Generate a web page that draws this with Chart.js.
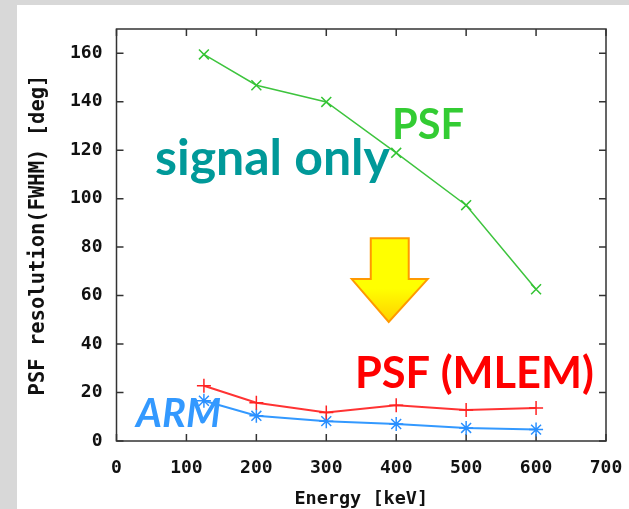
<!DOCTYPE html>
<html>
<head>
<meta charset="utf-8">
<script src="https://cdn.jsdelivr.net/npm/chart.js@4/dist/chart.umd.min.js"></script>
<style>
  html, body { margin: 0; padding: 0; background: #d8d8d8; }
  #wrap { position: relative; width: 629px; height: 509px; }
  canvas { display: block; }
</style>
</head>
<body>
<div id="wrap"><canvas id="c" width="629" height="509"></canvas></div>
<script>
// ---- data ----
const energies      = [125, 200, 300, 400, 500, 600];
const psfSignalOnly = [159.5, 146.8, 139.9, 118.9, 97.3, 62.6];
const psfMLEM       = [22.8, 15.8, 11.8, 14.8, 12.8, 13.6];
const armValues     = [16.6, 10.4, 8.2, 7.0, 5.4, 4.7];
const xTickValues   = [0, 100, 200, 300, 400, 500, 600, 700];
const yTickValues   = [0, 20, 40, 60, 80, 100, 120, 140, 160];

// annotation texts (position in data coords, target pixel width)
const notes = [
  { text: 'signal only', x: 55,  y: 109.7, w: 235, color: '#009999', style: 'bold' },
  { text: 'PSF',         x: 394, y: 124.5, w: 72,  color: '#33cc33', style: 'bold' },
  { text: 'PSF (MLEM)',  x: 341, y: 21.8,  w: 239, color: '#ff0000', style: 'bold' },
  { text: 'ARM',         x: 28,  y: 5.8,   w: 85,  color: '#3399ff', style: 'italic bold' }
];
// arrow outline in data coords
const arrowPts = [[363.6, 83.7], [417.9, 83.7], [417.9, 66.8], [445.0, 66.8],
                  [389.3, 49.1], [336.4, 66.8], [363.6, 66.8]];

const tickFont = { family: '"DejaVu Sans Mono", monospace', size: 18, weight: 'bold', lineHeight: 1 };

const framePlugin = {
  id: 'frame',
  beforeDraw(chart) {
    const ctx = chart.ctx;
    ctx.save();
    ctx.fillStyle = '#d8d8d8';
    ctx.fillRect(0, 0, chart.width, chart.height);
    ctx.fillStyle = '#ffffff';
    ctx.fillRect(17, 5, chart.width - 17, chart.height - 5);
    ctx.restore();
  },
  beforeDatasetsDraw(chart) {
    const { ctx, chartArea: a, scales: { x, y } } = chart;
    ctx.save();
    ctx.strokeStyle = '#333333';
    ctx.lineWidth = 1.5;
    const tl = 7;
    ctx.beginPath();
    xTickValues.forEach(v => {
      const px = x.getPixelForValue(v);
      ctx.moveTo(px, a.bottom); ctx.lineTo(px, a.bottom - tl);
      ctx.moveTo(px, a.top); ctx.lineTo(px, a.top + tl);
    });
    yTickValues.forEach(v => {
      const py = y.getPixelForValue(v);
      ctx.moveTo(a.left, py); ctx.lineTo(a.left + tl, py);
      ctx.moveTo(a.right, py); ctx.lineTo(a.right - tl, py);
    });
    ctx.stroke();
    ctx.strokeRect(a.left, a.top, a.right - a.left, a.bottom - a.top);

    // arrow
    const g = ctx.createLinearGradient(0, y.getPixelForValue(83.7), 0, y.getPixelForValue(49.1));
    g.addColorStop(0, '#ffff00');
    g.addColorStop(0.6, '#ffff00');
    g.addColorStop(1, '#ffd000');
    ctx.beginPath();
    arrowPts.forEach((p, i) => {
      const px = x.getPixelForValue(p[0]), py = y.getPixelForValue(p[1]);
      if (i === 0) ctx.moveTo(px, py); else ctx.lineTo(px, py);
    });
    ctx.closePath();
    ctx.fillStyle = g;
    ctx.fill();
    ctx.strokeStyle = '#ff9900';
    ctx.lineWidth = 2;
    ctx.lineJoin = 'miter';
    ctx.stroke();
    ctx.restore();
  },
  afterDatasetsDraw(chart) {
    const { ctx, scales: { x, y } } = chart;
    ctx.save();
    ctx.textBaseline = 'alphabetic';
    ctx.textAlign = 'left';
    notes.forEach(n => {
      ctx.font = n.style + ' 100px Lato, "Open Sans", sans-serif';
      const w100 = ctx.measureText(n.text).width;
      const size = 100 * n.w / w100;
      ctx.font = n.style + ' ' + size.toFixed(2) + 'px Lato, "Open Sans", sans-serif';
      ctx.fillStyle = n.color;
      ctx.fillText(n.text, x.getPixelForValue(n.x), y.getPixelForValue(n.y));
    });
    ctx.restore();
  }
};

new Chart(document.getElementById('c'), {
  type: 'line',
  data: {
    datasets: [
      { label: 'PSF signal only', data: energies.map((e, i) => ({ x: e, y: psfSignalOnly[i] })),
        borderColor: '#3ec43e', backgroundColor: '#3ec43e', borderWidth: 1.5,
        pointStyle: 'crossRot', pointRadius: 7, pointBorderWidth: 1.5, pointBorderColor: '#33c433' },
      { label: 'PSF (MLEM)', data: energies.map((e, i) => ({ x: e, y: psfMLEM[i] })),
        borderColor: '#ff3333', backgroundColor: '#ff3333', borderWidth: 2,
        pointStyle: 'cross', pointRadius: 7, pointBorderWidth: 1.5, pointBorderColor: '#ff2222' },
      { label: 'ARM', data: energies.map((e, i) => ({ x: e, y: armValues[i] })),
        borderColor: '#3399ff', backgroundColor: '#3399ff', borderWidth: 2,
        pointStyle: 'star', pointRadius: 7, pointBorderWidth: 1.5, pointBorderColor: '#2a90ff' }
    ]
  },
  options: {
    responsive: false,
    animation: false,
    devicePixelRatio: 1,
    layout: { padding: { left: 0, top: 29, right: 23, bottom: 0 } },
    plugins: { legend: { display: false }, tooltip: { enabled: false } },
    elements: { line: { tension: 0 } },
    scales: {
      x: {
        type: 'linear', min: 0, max: 700,
        grid: { display: false, drawTicks: false },
        border: { display: false },
        afterBuildTicks: s => { s.ticks = xTickValues.map(v => ({ value: v })); },
        afterFit: s => { s.height = 68; s.paddingLeft = 0; s.paddingRight = 0; },
        ticks: { color: '#111', font: tickFont, padding: 18, maxRotation: 0, autoSkip: false },
        title: { display: true, text: 'Energy [keV]', color: '#111',
                 font: { family: '"DejaVu Sans Mono", monospace', size: 18.5, weight: 'bold', lineHeight: 1 },
                 padding: { top: 0, bottom: 1 } }
      },
      y: {
        type: 'linear', min: 0, max: 170,
        grid: { display: false, drawTicks: false },
        border: { display: false },
        afterBuildTicks: s => { s.ticks = yTickValues.map(v => ({ value: v })); },
        afterFit: s => { s.width = 116.5; s.paddingTop = 0; s.paddingBottom = 0; },
        ticks: { color: '#111', font: tickFont, padding: 14, autoSkip: false },
        title: { display: true, text: 'PSF resolution(FWHM) [deg]', color: '#111',
                 font: { family: '"DejaVu Sans Mono", monospace', size: 20.5, weight: 'bold', lineHeight: 1 },
                 padding: { top: 28, bottom: 0 } }
      }
    }
  },
  plugins: [framePlugin]
});
</script>
</body>
</html>
